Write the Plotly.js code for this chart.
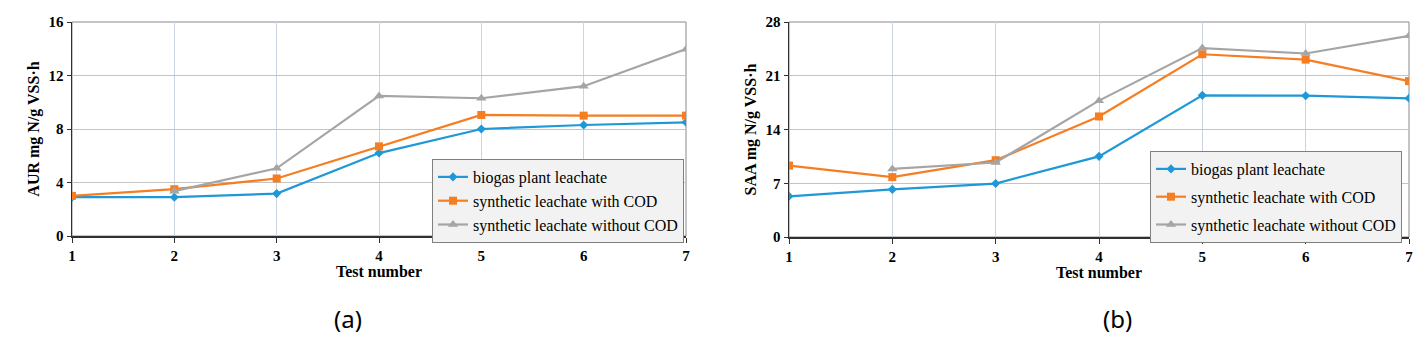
<!DOCTYPE html>
<html><head><meta charset="utf-8">
<script src="https://cdn.plot.ly/plotly-3.0.1.min.js"></script>
<style>html,body{margin:0;padding:0;background:#fff}#chart{width:1424px;height:342px}</style>
</head><body><div id="chart"></div>
<script>
const tests = [1, 2, 3, 4, 5, 6, 7];
const seriesNames = ["biogas plant leachate", "synthetic leachate with COD", "synthetic leachate without COD"];
// (a) AUR mg N/g VSS·h
const aurBiogas = [2.9, 2.9, 3.17, 6.2, 8.0, 8.3, 8.5];
const aurWithCOD = [3.0, 3.5, 4.3, 6.7, 9.05, 9.0, 9.0];
const aurWithoutCOD = [null, 3.35, 5.06, 10.47, 10.3, 11.2, 13.97];
// (b) SAA mg N/g VSS·h
const saaBiogas = [5.3, 6.2, 6.96, 10.5, 18.45, 18.4, 18.06];
const saaWithCOD = [9.3, 7.8, 10.0, 15.7, 23.8, 23.1, 20.3];
const saaWithoutCOD = [null, 8.86, 9.7, 17.76, 24.6, 23.9, 26.2];
const yTicksA = [0, 4, 8, 12, 16];
const yTicksB = [0, 7, 14, 21, 28];

const colors = ["#1f98d8", "#f57d22", "#a5a5a5"];
const symbols = ["diamond", "square", "triangle-up"];
const sizes = [7, 8, 9];

function mk(y, i, xa, ya, leg) {
  return {x: tests, y: y, name: seriesNames[i], type: "scatter", mode: "lines+markers",
    xaxis: xa, yaxis: ya, legend: leg, legendgroup: leg + i, connectgaps: false,
    line: {color: colors[i], width: 2.2}, marker: {color: colors[i], symbol: symbols[i], size: sizes[i]}};
}
const data = [
  mk(aurBiogas, 0, "x", "y", "legend"), mk(aurWithCOD, 1, "x", "y", "legend"), mk(aurWithoutCOD, 2, "x", "y", "legend"),
  mk(saaBiogas, 0, "x2", "y2", "legend2"), mk(saaWithCOD, 1, "x2", "y2", "legend2"), mk(saaWithoutCOD, 2, "x2", "y2", "legend2")
];

const serif = "Liberation Serif";
function xax(dom) {
  return {domain: dom, range: [1, 7], tickvals: tests, showgrid: true, gridcolor: "#cbd4e2", gridwidth: 1,
    showline: true, linecolor: "#303030", linewidth: 1.5, ticks: "outside", ticklen: 5, tickcolor: "#303030",
    tickfont: {family: serif, size: 15, color: "#000", weight: "bold"}, zeroline: false,
    title: {text: "Test number", font: {family: serif, size: 16, color: "#000", weight: "bold"}, standoff: 3}};
}
function yax(dom, ticks, title, anchor) {
  return {domain: dom, anchor: anchor, range: [0, ticks[ticks.length - 1]], tickvals: ticks, showgrid: true,
    gridcolor: "#c4c4c4", gridwidth: 1, showline: true, linecolor: "#303030", linewidth: 1.5,
    ticks: "outside", ticklen: 4, tickcolor: "#303030", zeroline: false,
    tickfont: {family: serif, size: 15, color: "#000", weight: "bold"},
    title: {text: title, font: {family: serif, size: 16, color: "#000", weight: "bold"}, standoff: 5}};
}
const legendStyle = (x, y, gap) => ({x: x, y: y, xanchor: "left", yanchor: "top", bgcolor: "#f2f2f2",
  bordercolor: "#7f7f7f", borderwidth: 1, font: {family: serif, size: 16, color: "#000"},
  tracegroupgap: gap, itemwidth: 30});
const layout = {
  width: 1424, height: 342, margin: {l: 0, r: 0, t: 0, b: 0},
  paper_bgcolor: "#fff", plot_bgcolor: "#fff", showlegend: true,
  xaxis: Object.assign(xax([72/1424, 686/1424]), {anchor: "y"}),
  yaxis: yax([106/342, 320/342], yTicksA, "AUR mg N/g VSS·h", "x"),
  xaxis2: Object.assign(xax([789/1424, 1409/1424]), {anchor: "y2"}),
  yaxis2: yax([105/342, 320/342], yTicksB, "SAA mg N/g VSS·h", "x2"),
  legend: legendStyle(432/1424, 1 - 159/342, 0),
  legend2: legendStyle(1150/1424, 1 - 151/342, 4),
  shapes: [
    {type: "rect", xref: "x domain", yref: "y domain", x0: 0, x1: 1, y0: 0, y1: 1, line: {color: "#8a8a8a", width: 1}, layer: "below"},
    {type: "rect", xref: "x2 domain", yref: "y2 domain", x0: 0, x1: 1, y0: 0, y1: 1, line: {color: "#8a8a8a", width: 1}, layer: "below"}
  ],
  annotations: [
    {text: "(a)", xref: "paper", yref: "paper", x: 348/1424, y: 1 - 318/342, xanchor: "center", yanchor: "middle",
      showarrow: false, font: {family: "Noto Sans", size: 24, color: "#000"}},
    {text: "(b)", xref: "paper", yref: "paper", x: 1117/1424, y: 1 - 318/342, xanchor: "center", yanchor: "middle",
      showarrow: false, font: {family: "Noto Sans", size: 24, color: "#000"}}
  ]
};
Plotly.newPlot("chart", data, layout, {staticPlot: true, displayModeBar: false});
</script></body></html>
